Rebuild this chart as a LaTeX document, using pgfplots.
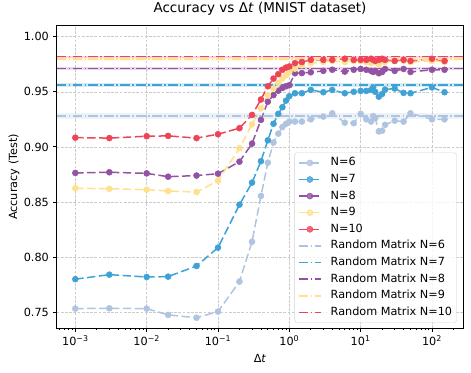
\documentclass[border=0pt]{standalone}
\usepackage{pgfplots}
\usepackage{pgfplotstable}
\pgfplotsset{compat=1.18}
\usepackage{fontspec}
\setmainfont{DejaVu Sans}

\definecolor{c6}{HTML}{AFC4E0}
\definecolor{c7}{HTML}{3FA2D5}
\definecolor{c8}{HTML}{9352A2}
\definecolor{c9}{HTML}{FFE08E}
\definecolor{c10}{HTML}{EE4457}

\pgfplotstableread{
x      n6      n7      n8      n9      n10
0.001  0.7533  0.7800  0.8764  0.8625  0.9084
0.003  0.7536  0.7841  0.8770  0.8620  0.9080
0.01   0.7533  0.7820  0.8760  0.8612  0.9097
0.02   0.7476  0.7823  0.8730  0.8600  0.9100
0.05   0.7450  0.7920  0.8740  0.8590  0.9080
0.1    0.7506  0.8086  0.8757  0.8694  0.9115
0.2    0.7778  0.8476  0.8866  0.8988  0.9170
0.3    0.8140  0.8676  0.9030  0.9205  0.9290
0.4    0.8555  0.8870  0.9245  0.9350  0.9430
0.5    0.8857  0.9060  0.9410  0.9470  0.9550
0.6    0.9040  0.9210  0.9470  0.9530  0.9620
0.7    0.9120  0.9300  0.9510  0.9580  0.9660
0.8    0.9180  0.9360  0.9535  0.9620  0.9700
0.9    0.9210  0.9420  0.9550  0.9650  0.9720
1      0.9230  0.9460  0.9560  0.9680  0.9730
1.2    0.9230  0.9487  0.9668  0.9710  0.9760
1.5    0.9230  0.9487  0.9670  0.9740  0.9770
2      0.9250  0.9517  0.9677  0.9760  0.9790
3      0.9275  0.9496  0.9690  0.9770  0.9790
4      0.9305  0.9517  0.9700  0.9780  0.9790
6      0.9220  0.9487  0.9683  0.9770  0.9800
8      0.9215  0.9500  0.9700  0.9780  0.9790
10     0.9300  0.9508  0.9707  0.9780  0.9790
12     0.9250  0.9508  0.9700  0.9770  0.9790
14     0.9230  0.9517  0.9690  0.9760  0.9800
15     0.9280  0.9540  0.9680  0.9780  0.9790
16     0.9260  0.9500  0.9690  0.9770  0.9780
18     0.9140  0.9456  0.9668  0.9750  0.9790
20     0.9147  0.9480  0.9680  0.9780  0.9800
22     0.9200  0.9520  0.9707  0.9770  0.9790
30     0.9238  0.9530  0.9690  0.9780  0.9780
40     0.9230  0.9490  0.9707  0.9780  0.9790
50     0.9305  0.9487  0.9680  0.9770  0.9780
100    0.9250  0.9540  0.9700  0.9780  0.9800
150    0.9250  0.9496  0.9700  0.9770  0.9780
}\datatable

\pgfplotsset{
  datastyle/.style={color=#1, line width=1.5bp, dash pattern=on 8.3bp off 3.6bp,
    mark=*, mark size=3bp, mark options={solid, fill=#1, draw=#1, line width=0.5bp},
    legend image code/.code={\draw[##1, mark repeat=2, mark phase=2] plot coordinates {(0bp,0bp) (11bp,0bp) (22bp,0bp)};}},
  rmstyle/.style={color=#1, line width=1.6bp, dash pattern=on 9.6bp off 2.4bp on 1.5bp off 2.4bp,
    legend image code/.code={\draw[##1] (0bp,0bp) -- (22bp,0bp);}},
  bandstyle/.style={draw=none, fill=#1, fill opacity=0.22, forget plot},
}

\begin{document}
\fontsize{11.26bp}{13.5bp}\selectfont
\begin{tikzpicture}
\useasboundingbox (-56.7bp,-45bp) rectangle (414.3bp,328bp);
\begin{axis}[
  at={(0,0)}, anchor=south west,
  scale only axis, width=406.6bp, height=302bp,
  xmode=log, log basis x=10,
  xmin=5.48e-4, xmax=274.8,
  ymin=0.7357, ymax=1.0097,
  xtick={1e-3,1e-2,1e-1,1,10,100},
  xticklabels={10\textsuperscript{−3},10\textsuperscript{−2},10\textsuperscript{−1},10\textsuperscript{0},10\textsuperscript{1},10\textsuperscript{2}},
  minor xtick={6e-4,7e-4,8e-4,9e-4,2e-3,3e-3,4e-3,5e-3,6e-3,7e-3,8e-3,9e-3,2e-2,3e-2,4e-2,5e-2,6e-2,7e-2,8e-2,9e-2,0.2,0.3,0.4,0.5,0.6,0.7,0.8,0.9,2,3,4,5,6,7,8,9,20,30,40,50,60,70,80,90,200},
  ytick={0.75,0.80,0.85,0.90,0.95,1.00},
  yticklabel style={/pgf/number format/fixed,/pgf/number format/precision=2,/pgf/number format/fixed zerofill},
  /pgf/number format/assume math mode=true,
  tick align=outside, tick pos=left,
  major tick length=3.9bp, minor tick length=2.25bp,
  every tick/.style={black, line width=0.9bp},
  minor tick style={black, line width=0.7bp},
  axis line style={black, line width=1bp},
  grid=major,
  major grid style={dash pattern=on 2.8bp off 1.4bp, gray!40, line width=0.5bp},
  minor grid style={draw=none},
  tick label style={font=\fontsize{11.26bp}{13.5bp}\selectfont},
  label style={font=\fontsize{11.26bp}{13.5bp}\selectfont},
  title style={font=\fontsize{13.5bp}{16bp}\selectfont, at={(axis description cs:0.5,1)}, anchor=center, yshift=11.5bp},
  title={Accuracy vs Δ\textit{t} (MNIST dataset)},
  xlabel={Δ\textit{t}},
  ylabel={Accuracy (Test)},
  xlabel style={at={(axis description cs:0.5,0)}, anchor=center, yshift=-30bp},
  ylabel style={at={(axis description cs:-0.105,0.5)}, anchor=center, rotate=0},
  legend cell align=left,
  legend style={at={(axis description cs:1,0)}, anchor=south east, xshift=-6.6bp, yshift=5.3bp,
    draw=gray!35, rounded corners=2.5bp, fill=white, fill opacity=0.8, text opacity=1,
    inner xsep=3.4bp, inner ysep=3.7bp, row sep=3.6bp, column sep=8bp,
    nodes={inner sep=1bp, text height=8.5bp, text depth=2.5bp},
    font=\fontsize{11.26bp}{13.5bp}\selectfont},
]
\addplot[datastyle=c6] table[x=x, y=n6] {\datatable};
\addlegendentry{N=6}
\addplot[datastyle=c7] table[x=x, y=n7] {\datatable};
\addlegendentry{N=7}
\addplot[datastyle=c8] table[x=x, y=n8] {\datatable};
\addlegendentry{N=8}
\addplot[datastyle=c9] table[x=x, y=n9] {\datatable};
\addlegendentry{N=9}
\addplot[datastyle=c10] table[x=x, y=n10] {\datatable};
\addlegendentry{N=10}

\addplot[bandstyle=c6] coordinates {(5.48e-4,0.9253) (274.8,0.9253) (274.8,0.9307) (5.48e-4,0.9307)} -- cycle;
\addplot[rmstyle=c6] coordinates {(5.48e-4,0.928) (274.8,0.928)};
\addlegendentry{Random Matrix N=6}
\addplot[bandstyle=c7] coordinates {(5.48e-4,0.9542) (274.8,0.9542) (274.8,0.9582) (5.48e-4,0.9582)} -- cycle;
\addplot[rmstyle=c7] coordinates {(5.48e-4,0.9562) (274.8,0.9562)};
\addlegendentry{Random Matrix N=7}
\addplot[bandstyle=c8] coordinates {(5.48e-4,0.9698) (274.8,0.9698) (274.8,0.9728) (5.48e-4,0.9728)} -- cycle;
\addplot[rmstyle=c8] coordinates {(5.48e-4,0.9713) (274.8,0.9713)};
\addlegendentry{Random Matrix N=8}
\addplot[bandstyle=c9] coordinates {(5.48e-4,0.9783) (274.8,0.9783) (274.8,0.9807) (5.48e-4,0.9807)} -- cycle;
\addplot[rmstyle=c9] coordinates {(5.48e-4,0.9795) (274.8,0.9795)};
\addlegendentry{Random Matrix N=9}
\addplot[bandstyle=c10] coordinates {(5.48e-4,0.9809) (274.8,0.9809) (274.8,0.9829) (5.48e-4,0.9829)} -- cycle;
\addplot[rmstyle=c10] coordinates {(5.48e-4,0.9819) (274.8,0.9819)};
\addlegendentry{Random Matrix N=10}
\end{axis}
\end{tikzpicture}
\end{document}
